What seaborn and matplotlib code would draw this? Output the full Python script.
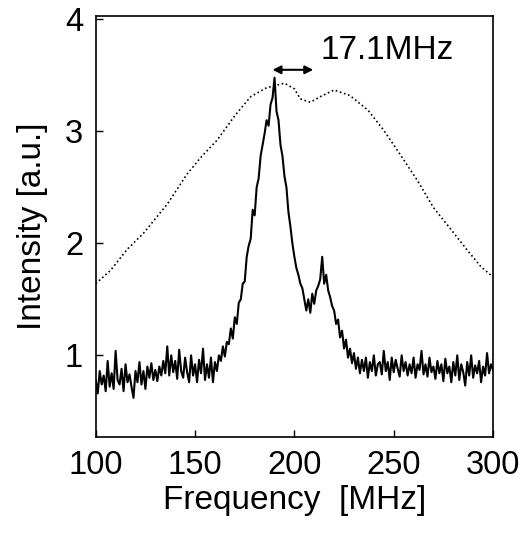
import numpy as np
import pandas as pd
import matplotlib
matplotlib.use("Agg")
import matplotlib.pyplot as plt
import seaborn as sns

# Broad (dotted) spectrum
broad_freq = [100, 107.5, 116, 124, 136, 146, 153, 161, 170, 178, 186, 195,
              200, 203, 208, 213, 220, 228, 237, 245, 253, 262, 270, 279,
              287, 294, 300]
broad_int = [1.64, 1.76, 1.95, 2.09, 2.35, 2.62, 2.77, 2.92, 3.14, 3.31, 3.39, 3.43,
             3.38, 3.29, 3.26, 3.31, 3.37, 3.32, 3.19, 3.01, 2.80, 2.56, 2.32, 2.12,
             1.94, 1.79, 1.70]

# Narrow (noisy, solid) spectrum, one value per MHz from 100 to 300
narrow_freq = list(range(100, 301))
narrow_int = [
    0.78, 0.66, 0.86, 0.74, 0.82, 0.68, 0.95, 0.72, 0.84, 0.70,
    1.04, 0.78, 0.74, 0.88, 0.68, 0.92, 0.76, 0.83, 0.72, 0.62,
    0.86, 0.76, 0.94, 0.74, 0.86, 0.70, 0.90, 0.80, 0.93, 0.78,
    0.87, 0.77, 0.90, 0.82, 0.95, 0.84, 1.08, 0.82, 1.00, 0.85,
    0.95, 0.79, 1.05, 0.86, 0.80, 0.98, 0.85, 0.76, 1.00, 0.82,
    0.92, 0.76, 0.96, 0.84, 1.06, 0.78, 0.92, 0.80, 0.98, 0.76,
    0.94, 0.86, 1.00, 0.95, 1.08, 0.99, 1.12, 1.10, 1.24, 1.15,
    1.34, 1.28, 1.47, 1.50, 1.64, 1.66, 1.88, 1.98, 2.04, 2.30,
    2.25, 2.50, 2.58, 2.78, 2.88, 2.98, 3.10, 3.05, 3.24, 3.30,
    3.48, 3.18, 3.10, 2.88, 2.78, 2.60, 2.50, 2.28, 2.15, 2.00,
    1.88, 1.78, 1.72, 1.64, 1.60, 1.50, 1.40, 1.50, 1.38, 1.55,
    1.46, 1.58, 1.62, 1.68, 1.88, 1.64, 1.72, 1.58, 1.52, 1.44,
    1.40, 1.28, 1.32, 1.16, 1.22, 1.06, 1.14, 0.98, 1.06, 0.93,
    1.02, 0.88, 0.98, 0.84, 0.96, 0.86, 0.98, 0.80, 0.94, 0.86,
    1.00, 0.82, 0.92, 0.94, 0.83, 1.04, 0.86, 0.94, 0.78, 0.98,
    0.85, 0.96, 0.88, 0.81, 1.00, 0.86, 0.94, 0.82, 0.92, 0.84,
    0.98, 0.80, 0.92, 0.87, 1.04, 0.83, 0.92, 0.81, 0.98, 0.85,
    0.90, 0.79, 0.95, 0.84, 0.92, 0.77, 0.97, 0.84, 0.90, 0.76,
    0.94, 0.82, 1.00, 0.78, 0.92, 0.85, 0.73, 0.94, 0.82, 1.00,
    0.80, 0.91, 0.84, 0.95, 0.76, 0.90, 0.82, 1.02, 0.84, 0.92,
    0.87,
]

x_ticks = [100, 150, 200, 250, 300]
y_ticks = [1, 2, 3, 4]
annotation_text = "17.1MHz"

sns.set_style("ticks")
plt.rcParams['font.family'] = ['Liberation Sans', 'DejaVu Sans']
plt.rcParams['text.color'] = 'black'
plt.rcParams['axes.labelcolor'] = 'black'

fig = plt.figure(figsize=(5.29, 5.35), dpi=100)
ax = fig.add_axes([0.181, 0.183, 0.751, 0.787])

broad_df = pd.DataFrame({"Frequency": broad_freq, "Intensity": broad_int})
narrow_df = pd.DataFrame({"Frequency": narrow_freq, "Intensity": narrow_int})

sns.lineplot(data=broad_df, x="Frequency", y="Intensity", ax=ax,
             color="black", linestyle=(0, (1, 1.6)), linewidth=1.2)
sns.lineplot(data=narrow_df, x="Frequency", y="Intensity", ax=ax,
             color="black", linewidth=1.5)

ax.set_xlim(100, 300)
ax.set_ylim(0.27, 4.03)
ax.set_xticks(x_ticks)
ax.set_yticks(y_ticks)
ax.set_xticklabels([str(t) for t in x_ticks])
ax.set_yticklabels([str(t) for t in y_ticks])
ax.tick_params(direction="in", length=5, width=1, labelsize=23.5,
               colors="black", labelcolor="black")
ax.tick_params(axis="x", pad=9)
ax.tick_params(axis="y", pad=9)
for s in ax.spines.values():
    s.set_visible(True)
    s.set_linewidth(1.2)
    s.set_color("black")

ax.set_xlabel("Frequency  [MHz]", fontsize=24, labelpad=3, color="black")
ax.set_ylabel("Intensity [a.u.]", fontsize=24, labelpad=12, color="black")

ax.annotate("", xy=(189.0, 3.55), xytext=(209.5, 3.55),
            arrowprops=dict(arrowstyle="<|-|>", color="black", lw=1.5,
                            mutation_scale=12, shrinkA=0, shrinkB=0))
ax.text(213, 3.72, annotation_text, fontsize=24, ha="left", va="center",
        color="black")

fig.savefig("out.png", dpi=100)
